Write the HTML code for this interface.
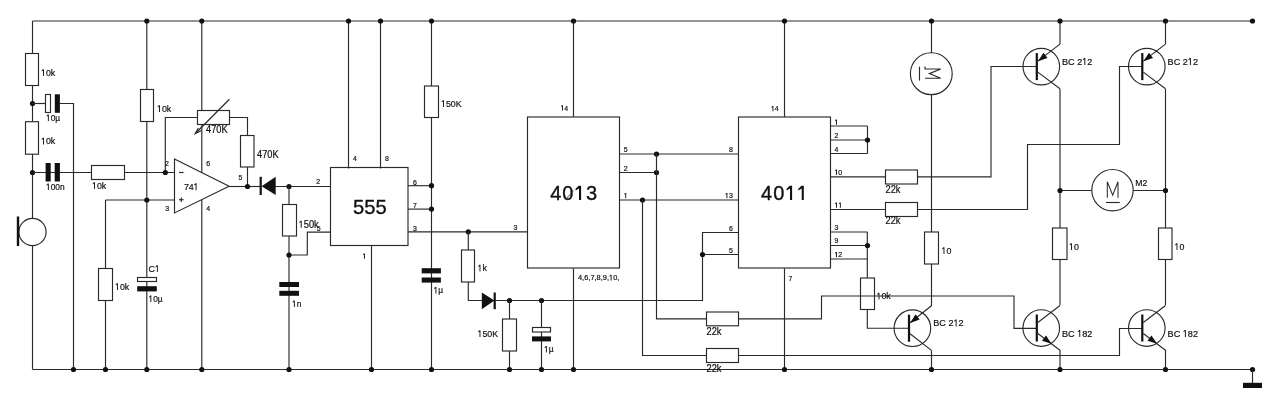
<!DOCTYPE html>
<html><head><meta charset="utf-8"><title>Schematic</title>
<style>
html,body{margin:0;padding:0;background:#fff;}
body{width:1280px;height:406px;overflow:hidden;}
svg{display:block;will-change:transform;}
text{font-family:"Liberation Sans",sans-serif;fill:#111;}
</style></head>
<body>
<svg width="1280" height="406" viewBox="0 0 1280 406">
<rect x="0" y="0" width="1280" height="406" fill="#fff"/>
<path d="M32.5,21 L1252.5,21" stroke="#2a2a2a" stroke-width="1.15" fill="none"/>
<path d="M32.5,369.5 L1252.5,369.5" stroke="#2a2a2a" stroke-width="1.15" fill="none"/>
<path d="M32.5,21 L32.5,218.5" stroke="#2a2a2a" stroke-width="1.15" fill="none"/>
<path d="M32.5,245.5 L32.5,369.5" stroke="#2a2a2a" stroke-width="1.15" fill="none"/>
<rect x="25.5" y="53.5" width="13" height="32" fill="#fff" stroke="#2a2a2a" stroke-width="1.15"/>
<g transform="translate(41.00,0) scale(0.93,1) translate(-41.00,0)">
<path d="M42.96,69.21 L44.16,69.21 L44.16,76.00 L43.16,76.00 L43.16,70.49 L41.66,71.44 L41.66,70.63 Z" fill="#111"/>
<text x="46.282" y="76" font-size="9.5" text-anchor="start" font-weight="normal" stroke="#111" stroke-width="0.2">0k</text>
</g>
<rect x="25.5" y="121.7" width="13" height="32.5" fill="#fff" stroke="#2a2a2a" stroke-width="1.15"/>
<g transform="translate(41.00,0) scale(0.93,1) translate(-41.00,0)">
<path d="M42.96,137.71 L44.16,137.71 L44.16,144.50 L43.16,144.50 L43.16,138.99 L41.66,139.94 L41.66,139.13 Z" fill="#111"/>
<text x="46.282" y="144.5" font-size="9.5" text-anchor="start" font-weight="normal" stroke="#111" stroke-width="0.2">0k</text>
</g>
<circle cx="32.5" cy="103.5" r="2.6" fill="#111"/>
<circle cx="32.5" cy="172.5" r="2.6" fill="#111"/>
<path d="M32.5,103.5 L46,103.5" stroke="#2a2a2a" stroke-width="1.15" fill="none"/>
<path d="M59.5,103.5 L73.5,103.5 L73.5,369.5" stroke="#2a2a2a" stroke-width="1.15" fill="none"/>
<rect x="45.5" y="94.5" width="5" height="18" fill="#fff" stroke="#2a2a2a" stroke-width="1.15"/>
<rect x="54.8" y="94.3" width="5.100000000000001" height="18.5" fill="#111"/>
<g transform="translate(46.00,0) scale(0.93,1) translate(-46.00,0)">
<path d="M47.82,114.56 L49.02,114.56 L49.02,121.00 L48.02,121.00 L48.02,115.78 L46.63,116.68 L46.63,115.91 Z" fill="#111"/>
<text x="51.004" y="121" font-size="9" text-anchor="start" font-weight="normal" stroke="#111" stroke-width="0.2">0µ</text>
</g>
<path d="M32.5,172.5 L92,172.5" stroke="#2a2a2a" stroke-width="1.15" fill="none"/>
<path d="M124,172.5 L165,172.5 L174.5,172.5" stroke="#2a2a2a" stroke-width="1.15" fill="none"/>
<rect x="45.6" y="163" width="5.100000000000001" height="18.5" fill="#111"/>
<rect x="54.7" y="163" width="5.199999999999996" height="18.5" fill="#111"/>
<g transform="translate(46.00,0) scale(0.93,1) translate(-46.00,0)">
<path d="M47.82,183.56 L49.02,183.56 L49.02,190.00 L48.02,190.00 L48.02,184.78 L46.63,185.68 L46.63,184.91 Z" fill="#111"/>
<text x="51.004" y="190" font-size="9" text-anchor="start" font-weight="normal" stroke="#111" stroke-width="0.2">00n</text>
</g>
<rect x="91.5" y="165.5" width="33" height="14" fill="#fff" stroke="#2a2a2a" stroke-width="1.15"/>
<g transform="translate(92.00,0) scale(0.93,1) translate(-92.00,0)">
<path d="M93.96,182.21 L95.16,182.21 L95.16,189.00 L94.16,189.00 L94.16,183.49 L92.67,184.44 L92.67,183.63 Z" fill="#111"/>
<text x="97.282" y="189" font-size="9.5" text-anchor="start" font-weight="normal" stroke="#111" stroke-width="0.2">0k</text>
</g>
<circle cx="32.5" cy="232" r="13.6" fill="#fff" stroke="#2a2a2a" stroke-width="1.15"/>
<rect x="16.8" y="216.5" width="2.3999999999999986" height="29.5" fill="#111"/>
<circle cx="73.5" cy="369.5" r="2.6" fill="#111"/>
<path d="M105.5,200 L174.5,200" stroke="#2a2a2a" stroke-width="1.15" fill="none"/>
<path d="M105.5,200 L105.5,369.5" stroke="#2a2a2a" stroke-width="1.15" fill="none"/>
<rect x="98.5" y="268.5" width="14" height="32" fill="#fff" stroke="#2a2a2a" stroke-width="1.15"/>
<g transform="translate(115.00,0) scale(0.93,1) translate(-115.00,0)">
<path d="M116.96,283.21 L118.16,283.21 L118.16,290.00 L117.16,290.00 L117.16,284.49 L115.67,285.44 L115.67,284.63 Z" fill="#111"/>
<text x="120.282" y="290" font-size="9.5" text-anchor="start" font-weight="normal" stroke="#111" stroke-width="0.2">0k</text>
</g>
<circle cx="105.5" cy="369.5" r="2.6" fill="#111"/>
<path d="M146.8,21 L146.8,369.5" stroke="#2a2a2a" stroke-width="1.15" fill="none"/>
<rect x="140.5" y="89.5" width="13" height="32" fill="#fff" stroke="#2a2a2a" stroke-width="1.15"/>
<g transform="translate(157.00,0) scale(0.93,1) translate(-157.00,0)">
<path d="M158.96,105.21 L160.16,105.21 L160.16,112.00 L159.16,112.00 L159.16,106.49 L157.66,107.44 L157.66,106.63 Z" fill="#111"/>
<text x="162.282" y="112" font-size="9.5" text-anchor="start" font-weight="normal" stroke="#111" stroke-width="0.2">0k</text>
</g>
<circle cx="146.8" cy="21" r="2.6" fill="#111"/>
<circle cx="146.8" cy="200" r="2.6" fill="#111"/>
<rect x="137.5" y="277.5" width="19" height="4" fill="#fff" stroke="#2a2a2a" stroke-width="1.15"/>
<rect x="137.2" y="286.2" width="19.600000000000023" height="5.199999999999989" fill="#111"/>
<g transform="translate(148.50,0) scale(0.93,1) translate(-148.50,0)">
<text x="148.5" y="272" font-size="9.5" text-anchor="start" font-weight="normal" stroke="#111" stroke-width="0.2">C</text>
<path d="M157.32,265.21 L158.52,265.21 L158.52,272.00 L157.52,272.00 L157.52,266.49 L156.02,267.44 L156.02,266.63 Z" fill="#111"/>
</g>
<g transform="translate(148.50,0) scale(0.93,1) translate(-148.50,0)">
<path d="M150.32,295.56 L151.52,295.56 L151.52,302.00 L150.52,302.00 L150.52,296.78 L149.13,297.68 L149.13,296.92 Z" fill="#111"/>
<text x="153.504" y="302" font-size="9" text-anchor="start" font-weight="normal" stroke="#111" stroke-width="0.2">0µ</text>
</g>
<circle cx="146.8" cy="369.5" r="2.6" fill="#111"/>
<path d="M165.3,172.5 L165.3,117.5 L247.5,117.5 L247.5,186.5" stroke="#2a2a2a" stroke-width="1.15" fill="none"/>
<circle cx="165.3" cy="172.5" r="2.6" fill="#111"/>
<g transform="translate(206.00,0) scale(0.93,1) translate(-206.00,0)">
<text x="206" y="133" font-size="10" text-anchor="start" font-weight="normal" stroke="#111" stroke-width="0.2">470K</text>
</g>
<rect x="240.5" y="135.5" width="13.5" height="31.5" fill="#fff" stroke="#2a2a2a" stroke-width="1.15"/>
<g transform="translate(257.00,0) scale(0.93,1) translate(-257.00,0)">
<text x="257" y="158" font-size="10" text-anchor="start" font-weight="normal" stroke="#111" stroke-width="0.2">470K</text>
</g>
<path d="M201.8,21 L201.8,173" stroke="#2a2a2a" stroke-width="1.15" fill="none"/>
<path d="M201.8,200 L201.8,369.5" stroke="#2a2a2a" stroke-width="1.15" fill="none"/>
<circle cx="201.8" cy="21" r="2.6" fill="#111"/>
<circle cx="201.8" cy="369.5" r="2.6" fill="#111"/>
<rect x="197.5" y="110.5" width="32" height="14" fill="#fff" stroke="#2a2a2a" stroke-width="1.15"/>
<path d="M229.4,99.2 L195.3,133.5" stroke="#2a2a2a" stroke-width="1.21" fill="none"/>
<path d="M198.3,128.0 L195.2,133.6 L201.5,130.6" stroke="#2a2a2a" stroke-width="1.15" fill="none"/>
<path d="M174.5,159.1 L229.1,186.3 L174.5,212.9 Z" fill="#fff" stroke="#2a2a2a" stroke-width="1.15"/>
<g transform="translate(184.00,0) scale(0.93,1) translate(-184.00,0)">
<text x="184" y="190.2" font-size="9.6" text-anchor="start" font-weight="normal" letter-spacing="-0.2" stroke="#111" stroke-width="0.2">74</text>
<path d="M196.26,183.34 L197.47,183.34 L197.47,190.20 L196.46,190.20 L196.46,184.63 L194.95,185.59 L194.95,184.78 Z" fill="#111"/>
</g>
<path d="M179,172.5 L183.6,172.5" stroke="#2a2a2a" stroke-width="1.15" fill="none"/>
<path d="M179,199.7 L183.6,199.7" stroke="#2a2a2a" stroke-width="1.15" fill="none"/>
<path d="M181.3,197.4 L181.3,202" stroke="#2a2a2a" stroke-width="1.15" fill="none"/>
<g transform="translate(165.00,0) scale(0.93,1) translate(-165.00,0)">
<text x="165" y="165.8" font-size="7.5" text-anchor="start" font-weight="normal" stroke="#111" stroke-width="0.2">2</text>
</g>
<g transform="translate(165.20,0) scale(0.93,1) translate(-165.20,0)">
<text x="165.2" y="211.1" font-size="7.5" text-anchor="start" font-weight="normal" stroke="#111" stroke-width="0.2">3</text>
</g>
<g transform="translate(206.20,0) scale(0.93,1) translate(-206.20,0)">
<text x="206.2" y="165.8" font-size="7.5" text-anchor="start" font-weight="normal" stroke="#111" stroke-width="0.2">6</text>
</g>
<g transform="translate(206.20,0) scale(0.93,1) translate(-206.20,0)">
<text x="206.2" y="211" font-size="7.5" text-anchor="start" font-weight="normal" stroke="#111" stroke-width="0.2">4</text>
</g>
<g transform="translate(238.50,0) scale(0.93,1) translate(-238.50,0)">
<text x="238.5" y="179.6" font-size="7.5" text-anchor="start" font-weight="normal" stroke="#111" stroke-width="0.2">5</text>
</g>
<path d="M229.1,186.5 L261,186.5" stroke="#2a2a2a" stroke-width="1.15" fill="none"/>
<circle cx="247.5" cy="186.5" r="2.6" fill="#111"/>
<rect x="259.6" y="176.8" width="2.1999999999999886" height="18.19999999999999" fill="#111"/>
<path d="M261.6,186.3 L275.7,176.8 L275.7,195 Z" fill="#111"/>
<path d="M275,186.5 L330.5,186.5" stroke="#2a2a2a" stroke-width="1.15" fill="none"/>
<circle cx="289" cy="186.5" r="2.6" fill="#111"/>
<g transform="translate(316.30,0) scale(0.93,1) translate(-316.30,0)">
<text x="316.3" y="184.3" font-size="7.5" text-anchor="start" font-weight="normal" stroke="#111" stroke-width="0.2">2</text>
</g>
<path d="M289,186.5 L289,369.5" stroke="#2a2a2a" stroke-width="1.15" fill="none"/>
<rect x="282.5" y="204.5" width="14" height="31.5" fill="#fff" stroke="#2a2a2a" stroke-width="1.15"/>
<g transform="translate(298.60,0) scale(0.93,1) translate(-298.60,0)">
<path d="M300.68,220.65 L301.93,220.65 L301.93,227.80 L300.88,227.80 L300.88,222.00 L299.30,223.00 L299.30,222.15 Z" fill="#111"/>
<text x="304.16" y="227.8" font-size="10" text-anchor="start" font-weight="normal" stroke="#111" stroke-width="0.2">50k</text>
</g>
<path d="M330.5,232.1 L307.3,232.1 L307.3,255 L289,255" stroke="#2a2a2a" stroke-width="1.15" fill="none"/>
<circle cx="289" cy="255" r="2.6" fill="#111"/>
<g transform="translate(316.80,0) scale(0.93,1) translate(-316.80,0)">
<text x="316.8" y="231.3" font-size="7.5" text-anchor="start" font-weight="normal" stroke="#111" stroke-width="0.2">5</text>
</g>
<rect x="279.3" y="282" width="19.69999999999999" height="5" fill="#111"/>
<rect x="279.3" y="290.8" width="19.69999999999999" height="5.0" fill="#111"/>
<g transform="translate(292.00,0) scale(0.93,1) translate(-292.00,0)">
<path d="M293.82,300.56 L295.02,300.56 L295.02,307.00 L294.02,307.00 L294.02,301.78 L292.63,302.68 L292.63,301.92 Z" fill="#111"/>
<text x="297.004" y="307" font-size="9" text-anchor="start" font-weight="normal" stroke="#111" stroke-width="0.2">n</text>
</g>
<circle cx="289" cy="369.5" r="2.6" fill="#111"/>
<rect x="330.5" y="167.5" width="77.5" height="78" fill="#fff" stroke="#2a2a2a" stroke-width="1.15"/>
<text x="353.1" y="214" font-size="20.2" text-anchor="start" font-weight="normal" stroke="#111" stroke-width="0.35">555</text>
<path d="M348.5,21 L348.5,168.5" stroke="#2a2a2a" stroke-width="1.15" fill="none"/>
<path d="M380.5,21 L380.5,168.5" stroke="#2a2a2a" stroke-width="1.15" fill="none"/>
<circle cx="348.5" cy="21" r="2.6" fill="#111"/>
<circle cx="380.5" cy="21" r="2.6" fill="#111"/>
<g transform="translate(353.00,0) scale(0.93,1) translate(-353.00,0)">
<text x="353" y="161.1" font-size="7.5" text-anchor="start" font-weight="normal" stroke="#111" stroke-width="0.2">4</text>
</g>
<g transform="translate(385.00,0) scale(0.93,1) translate(-385.00,0)">
<text x="385" y="161.1" font-size="7.5" text-anchor="start" font-weight="normal" stroke="#111" stroke-width="0.2">8</text>
</g>
<path d="M371.5,245.5 L371.5,369.5" stroke="#2a2a2a" stroke-width="1.15" fill="none"/>
<circle cx="371.5" cy="369.5" r="2.6" fill="#111"/>
<g transform="translate(362.50,0) scale(0.93,1) translate(-362.50,0)">
<path d="M363.90,253.44 L365.10,253.44 L365.10,258.80 L364.10,258.80 L364.10,254.45 L363.02,255.20 L363.02,254.56 Z" fill="#111"/>
</g>
<path d="M408,185.7 L431.5,185.7" stroke="#2a2a2a" stroke-width="1.15" fill="none"/>
<path d="M408,209.1 L431.5,209.1" stroke="#2a2a2a" stroke-width="1.15" fill="none"/>
<path d="M408,231.8 L527.5,231.8" stroke="#2a2a2a" stroke-width="1.15" fill="none"/>
<g transform="translate(413.00,0) scale(0.93,1) translate(-413.00,0)">
<text x="413" y="184.6" font-size="7.5" text-anchor="start" font-weight="normal" stroke="#111" stroke-width="0.2">6</text>
</g>
<g transform="translate(413.00,0) scale(0.93,1) translate(-413.00,0)">
<text x="413" y="208" font-size="7.5" text-anchor="start" font-weight="normal" stroke="#111" stroke-width="0.2">7</text>
</g>
<g transform="translate(413.00,0) scale(0.93,1) translate(-413.00,0)">
<text x="413" y="231.3" font-size="7.5" text-anchor="start" font-weight="normal" stroke="#111" stroke-width="0.2">3</text>
</g>
<path d="M431.5,21 L431.5,369.5" stroke="#2a2a2a" stroke-width="1.15" fill="none"/>
<circle cx="431.5" cy="21" r="2.6" fill="#111"/>
<rect x="424.5" y="86" width="14" height="31.5" fill="#fff" stroke="#2a2a2a" stroke-width="1.15"/>
<g transform="translate(441.00,0) scale(0.93,1) translate(-441.00,0)">
<path d="M442.96,100.21 L444.16,100.21 L444.16,107.00 L443.16,107.00 L443.16,101.49 L441.67,102.44 L441.67,101.63 Z" fill="#111"/>
<text x="446.282" y="107" font-size="9.5" text-anchor="start" font-weight="normal" stroke="#111" stroke-width="0.2">50K</text>
</g>
<circle cx="431.5" cy="185.7" r="2.6" fill="#111"/>
<circle cx="431.5" cy="209.1" r="2.6" fill="#111"/>
<rect x="421.7" y="268.2" width="19.19999999999999" height="5.199999999999989" fill="#111"/>
<rect x="421.7" y="277.5" width="19.19999999999999" height="5.100000000000023" fill="#111"/>
<g transform="translate(433.60,0) scale(0.93,1) translate(-433.60,0)">
<path d="M435.42,286.96 L436.62,286.96 L436.62,293.40 L435.62,293.40 L435.62,288.18 L434.23,289.08 L434.23,288.31 Z" fill="#111"/>
<text x="438.60400000000004" y="293.4" font-size="9" text-anchor="start" font-weight="normal" stroke="#111" stroke-width="0.2">µ</text>
</g>
<circle cx="431.5" cy="369.5" r="2.6" fill="#111"/>
<rect x="527.5" y="117" width="92" height="151" fill="#fff" stroke="#2a2a2a" stroke-width="1.15"/>
<text x="550.3" y="200" font-size="20" text-anchor="start" font-weight="normal" letter-spacing="0.9" stroke="#111" stroke-width="0.35">40</text>
<path d="M578.70,185.70 L581.10,185.70 L581.10,200.00 L579.00,200.00 L579.00,188.40 L575.60,190.40 L575.60,188.70 Z" fill="#111"/>
<text x="586.0" y="200" font-size="20" text-anchor="start" font-weight="normal" stroke="#111" stroke-width="0.35">3</text>
<path d="M566.8,198.1 L573.5,190.7" stroke="#2a2a2a" stroke-width="0.805" fill="none"/>
<path d="M573.5,21 L573.5,117" stroke="#2a2a2a" stroke-width="1.15" fill="none"/>
<circle cx="573.5" cy="21" r="2.6" fill="#111"/>
<g transform="translate(560.50,0) scale(0.93,1) translate(-560.50,0)">
<path d="M561.90,105.24 L563.10,105.24 L563.10,110.60 L562.10,110.60 L562.10,106.25 L561.02,107.00 L561.02,106.36 Z" fill="#111"/>
<text x="564.67" y="110.6" font-size="7.5" text-anchor="start" font-weight="normal" stroke="#111" stroke-width="0.2">4</text>
</g>
<path d="M573.5,268.3 L573.5,369.5" stroke="#2a2a2a" stroke-width="1.15" fill="none"/>
<circle cx="573.5" cy="369.5" r="2.6" fill="#111"/>
<g transform="translate(578.00,0) scale(0.93,1) translate(-578.00,0)">
<text x="578" y="280.5" font-size="8" text-anchor="start" font-weight="normal" stroke="#111" stroke-width="0.2">4,6,7,8,9,</text>
<path d="M612.90,274.78 L614.10,274.78 L614.10,280.50 L613.10,280.50 L613.10,275.86 L611.92,276.66 L611.92,275.98 Z" fill="#111"/>
<text x="615.8080000000001" y="280.5" font-size="8" text-anchor="start" font-weight="normal" stroke="#111" stroke-width="0.2">0,</text>
</g>
<g transform="translate(513.50,0) scale(0.93,1) translate(-513.50,0)">
<text x="513.5" y="230.3" font-size="7.5" text-anchor="start" font-weight="normal" stroke="#111" stroke-width="0.2">3</text>
</g>
<g transform="translate(623.80,0) scale(0.93,1) translate(-623.80,0)">
<text x="623.8" y="152.3" font-size="7.5" text-anchor="start" font-weight="normal" stroke="#111" stroke-width="0.2">5</text>
</g>
<g transform="translate(623.80,0) scale(0.93,1) translate(-623.80,0)">
<text x="623.8" y="170.8" font-size="7.5" text-anchor="start" font-weight="normal" stroke="#111" stroke-width="0.2">2</text>
</g>
<g transform="translate(623.80,0) scale(0.93,1) translate(-623.80,0)">
<path d="M625.20,192.94 L626.40,192.94 L626.40,198.30 L625.40,198.30 L625.40,193.95 L624.32,194.70 L624.32,194.06 Z" fill="#111"/>
</g>
<circle cx="468.3" cy="231.8" r="2.6" fill="#111"/>
<path d="M468.3,231.8 L468.3,300.5 L482,300.5" stroke="#2a2a2a" stroke-width="1.15" fill="none"/>
<rect x="461.5" y="250" width="13" height="32" fill="#fff" stroke="#2a2a2a" stroke-width="1.15"/>
<g transform="translate(477.50,0) scale(0.93,1) translate(-477.50,0)">
<path d="M479.46,264.71 L480.66,264.71 L480.66,271.50 L479.66,271.50 L479.66,265.99 L478.17,266.94 L478.17,266.13 Z" fill="#111"/>
<text x="482.782" y="271.5" font-size="9.5" text-anchor="start" font-weight="normal" stroke="#111" stroke-width="0.2">k</text>
</g>
<path d="M481.8,292.5 L494.4,300.5 L481.8,309.2 Z" fill="#111"/>
<rect x="493.6" y="292.5" width="2.1999999999999886" height="16.69999999999999" fill="#111"/>
<path d="M495,300.5 L702.5,300.5 L702.5,232.5 L738,232.5" stroke="#2a2a2a" stroke-width="1.15" fill="none"/>
<circle cx="509.5" cy="300.5" r="2.6" fill="#111"/>
<circle cx="541.5" cy="300.5" r="2.6" fill="#111"/>
<path d="M509.5,300.5 L509.5,369.5" stroke="#2a2a2a" stroke-width="1.15" fill="none"/>
<rect x="502.5" y="319" width="14" height="32" fill="#fff" stroke="#2a2a2a" stroke-width="1.15"/>
<g transform="translate(477.50,0) scale(0.93,1) translate(-477.50,0)">
<path d="M479.46,330.21 L480.66,330.21 L480.66,337.00 L479.66,337.00 L479.66,331.49 L478.17,332.44 L478.17,331.63 Z" fill="#111"/>
<text x="482.782" y="337" font-size="9.5" text-anchor="start" font-weight="normal" stroke="#111" stroke-width="0.2">50K</text>
</g>
<circle cx="509.5" cy="369.5" r="2.6" fill="#111"/>
<path d="M541.5,300.5 L541.5,369.5" stroke="#2a2a2a" stroke-width="1.15" fill="none"/>
<rect x="532.5" y="327.5" width="18" height="4.5" fill="#fff" stroke="#2a2a2a" stroke-width="1.15"/>
<rect x="532" y="336.4" width="19" height="5.0" fill="#111"/>
<g transform="translate(544.00,0) scale(0.93,1) translate(-544.00,0)">
<path d="M545.82,346.06 L547.02,346.06 L547.02,352.50 L546.02,352.50 L546.02,347.28 L544.63,348.18 L544.63,347.42 Z" fill="#111"/>
<text x="549.004" y="352.5" font-size="9" text-anchor="start" font-weight="normal" stroke="#111" stroke-width="0.2">µ</text>
</g>
<circle cx="541.5" cy="369.5" r="2.6" fill="#111"/>
<path d="M619.5,154 L738,154" stroke="#2a2a2a" stroke-width="1.15" fill="none"/>
<path d="M619.5,172.5 L656.5,172.5" stroke="#2a2a2a" stroke-width="1.15" fill="none"/>
<path d="M619.5,200 L738,200" stroke="#2a2a2a" stroke-width="1.15" fill="none"/>
<circle cx="656.5" cy="154" r="2.6" fill="#111"/>
<circle cx="656.5" cy="172.5" r="2.6" fill="#111"/>
<circle cx="642.5" cy="200" r="2.6" fill="#111"/>
<path d="M702.5,254.5 L738,254.5" stroke="#2a2a2a" stroke-width="1.15" fill="none"/>
<circle cx="702.5" cy="254.5" r="2.6" fill="#111"/>
<g transform="translate(729.00,0) scale(0.93,1) translate(-729.00,0)">
<text x="729" y="152.3" font-size="7.5" text-anchor="start" font-weight="normal" stroke="#111" stroke-width="0.2">8</text>
</g>
<g transform="translate(725.00,0) scale(0.93,1) translate(-725.00,0)">
<path d="M726.40,192.94 L727.60,192.94 L727.60,198.30 L726.60,198.30 L726.60,193.95 L725.52,194.70 L725.52,194.06 Z" fill="#111"/>
<text x="729.17" y="198.3" font-size="7.5" text-anchor="start" font-weight="normal" stroke="#111" stroke-width="0.2">3</text>
</g>
<g transform="translate(729.00,0) scale(0.93,1) translate(-729.00,0)">
<text x="729" y="230.8" font-size="7.5" text-anchor="start" font-weight="normal" stroke="#111" stroke-width="0.2">6</text>
</g>
<g transform="translate(729.00,0) scale(0.93,1) translate(-729.00,0)">
<text x="729" y="252.8" font-size="7.5" text-anchor="start" font-weight="normal" stroke="#111" stroke-width="0.2">5</text>
</g>
<path d="M656.5,154 L656.5,318.8 L821.5,318.8 L821.5,296 L1014,296 L1014,328.3 L1036,328.3" stroke="#2a2a2a" stroke-width="1.15" fill="none"/>
<rect x="706.5" y="312" width="32" height="13.8" fill="#fff" stroke="#2a2a2a" stroke-width="1.15"/>
<g transform="translate(706.50,0) scale(0.93,1) translate(-706.50,0)">
<text x="706.5" y="335" font-size="10" text-anchor="start" font-weight="normal" stroke="#111" stroke-width="0.2">22k</text>
</g>
<path d="M642.5,200 L642.5,355.5 L1119.5,355.5 L1119.5,328.5 L1142,328.5" stroke="#2a2a2a" stroke-width="1.15" fill="none"/>
<rect x="706.5" y="348.5" width="32" height="14" fill="#fff" stroke="#2a2a2a" stroke-width="1.15"/>
<g transform="translate(706.50,0) scale(0.93,1) translate(-706.50,0)">
<text x="706.5" y="372" font-size="10" text-anchor="start" font-weight="normal" stroke="#111" stroke-width="0.2">22k</text>
</g>
<rect x="738.5" y="117" width="92" height="151" fill="#fff" stroke="#2a2a2a" stroke-width="1.15"/>
<text x="761" y="200" font-size="20" text-anchor="start" font-weight="normal" letter-spacing="1.1" stroke="#111" stroke-width="0.35">40</text>
<path d="M789.70,185.70 L792.10,185.70 L792.10,200.00 L790.00,200.00 L790.00,188.40 L786.60,190.40 L786.60,188.70 Z" fill="#111"/>
<path d="M801.40,185.70 L803.80,185.70 L803.80,200.00 L801.70,200.00 L801.70,188.40 L798.30,190.40 L798.30,188.70 Z" fill="#111"/>
<path d="M784.5,21 L784.5,117" stroke="#2a2a2a" stroke-width="1.15" fill="none"/>
<circle cx="784.5" cy="21" r="2.6" fill="#111"/>
<g transform="translate(771.00,0) scale(0.93,1) translate(-771.00,0)">
<path d="M772.40,105.94 L773.60,105.94 L773.60,111.30 L772.60,111.30 L772.60,106.95 L771.52,107.70 L771.52,107.06 Z" fill="#111"/>
<text x="775.17" y="111.3" font-size="7.5" text-anchor="start" font-weight="normal" stroke="#111" stroke-width="0.2">4</text>
</g>
<path d="M784.5,268.3 L784.5,369.5" stroke="#2a2a2a" stroke-width="1.15" fill="none"/>
<circle cx="784.5" cy="369.5" r="2.6" fill="#111"/>
<g transform="translate(788.50,0) scale(0.93,1) translate(-788.50,0)">
<text x="788.5" y="280.8" font-size="7.5" text-anchor="start" font-weight="normal" stroke="#111" stroke-width="0.2">7</text>
</g>
<path d="M830.5,126 L867.5,126" stroke="#2a2a2a" stroke-width="1.15" fill="none"/>
<path d="M830.5,140 L867.5,140" stroke="#2a2a2a" stroke-width="1.15" fill="none"/>
<path d="M830.5,153.5 L867.5,153.5" stroke="#2a2a2a" stroke-width="1.15" fill="none"/>
<path d="M867.5,126 L867.5,153.5" stroke="#2a2a2a" stroke-width="1.15" fill="none"/>
<circle cx="867.5" cy="140" r="2.6" fill="#111"/>
<g transform="translate(834.50,0) scale(0.93,1) translate(-834.50,0)">
<path d="M835.90,119.44 L837.10,119.44 L837.10,124.80 L836.10,124.80 L836.10,120.45 L835.02,121.20 L835.02,120.56 Z" fill="#111"/>
</g>
<g transform="translate(834.50,0) scale(0.93,1) translate(-834.50,0)">
<text x="834.5" y="138.5" font-size="7.5" text-anchor="start" font-weight="normal" stroke="#111" stroke-width="0.2">2</text>
</g>
<g transform="translate(834.50,0) scale(0.93,1) translate(-834.50,0)">
<text x="834.5" y="151.8" font-size="7.5" text-anchor="start" font-weight="normal" stroke="#111" stroke-width="0.2">4</text>
</g>
<path d="M830.5,176.8 L885.5,176.8" stroke="#2a2a2a" stroke-width="1.15" fill="none"/>
<rect x="885.5" y="170" width="32" height="14" fill="#fff" stroke="#2a2a2a" stroke-width="1.15"/>
<path d="M917.5,176.8 L991,176.8 L991,66.5 L1036,66.5" stroke="#2a2a2a" stroke-width="1.15" fill="none"/>
<g transform="translate(834.50,0) scale(0.93,1) translate(-834.50,0)">
<path d="M835.90,169.44 L837.10,169.44 L837.10,174.80 L836.10,174.80 L836.10,170.45 L835.02,171.20 L835.02,170.56 Z" fill="#111"/>
<text x="838.67" y="174.8" font-size="7.5" text-anchor="start" font-weight="normal" stroke="#111" stroke-width="0.2">0</text>
</g>
<g transform="translate(885.50,0) scale(0.93,1) translate(-885.50,0)">
<text x="885.5" y="192.7" font-size="10" text-anchor="start" font-weight="normal" stroke="#111" stroke-width="0.2">22k</text>
</g>
<path d="M830.5,209.5 L885.5,209.5" stroke="#2a2a2a" stroke-width="1.15" fill="none"/>
<rect x="885.5" y="202.5" width="32" height="14" fill="#fff" stroke="#2a2a2a" stroke-width="1.15"/>
<path d="M917.5,209.5 L1027.5,209.5 L1027.5,144.5 L1119.5,144.5 L1119.5,66.5 L1142,66.5" stroke="#2a2a2a" stroke-width="1.15" fill="none"/>
<g transform="translate(834.50,0) scale(0.93,1) translate(-834.50,0)">
<path d="M835.90,202.44 L837.10,202.44 L837.10,207.80 L836.10,207.80 L836.10,203.45 L835.02,204.20 L835.02,203.56 Z" fill="#111"/>
<path d="M840.07,202.44 L841.27,202.44 L841.27,207.80 L840.27,207.80 L840.27,203.45 L839.19,204.20 L839.19,203.56 Z" fill="#111"/>
</g>
<g transform="translate(885.50,0) scale(0.93,1) translate(-885.50,0)">
<text x="885.5" y="224.5" font-size="10" text-anchor="start" font-weight="normal" stroke="#111" stroke-width="0.2">22k</text>
</g>
<path d="M830.5,232 L867.5,232" stroke="#2a2a2a" stroke-width="1.15" fill="none"/>
<path d="M830.5,245.5 L867.5,245.5" stroke="#2a2a2a" stroke-width="1.15" fill="none"/>
<path d="M830.5,259 L867.5,259" stroke="#2a2a2a" stroke-width="1.15" fill="none"/>
<path d="M867.3,232 L867.3,278" stroke="#2a2a2a" stroke-width="1.15" fill="none"/>
<path d="M867.3,309.5 L867.3,328.2 L909,328.2" stroke="#2a2a2a" stroke-width="1.15" fill="none"/>
<circle cx="867.5" cy="245.5" r="2.6" fill="#111"/>
<rect x="860.5" y="278" width="14" height="31.5" fill="none" stroke="#2a2a2a" stroke-width="1.15"/>
<g transform="translate(876.50,0) scale(0.93,1) translate(-876.50,0)">
<path d="M878.46,292.71 L879.66,292.71 L879.66,299.50 L878.66,299.50 L878.66,293.99 L877.16,294.94 L877.16,294.13 Z" fill="#111"/>
<text x="881.782" y="299.5" font-size="9.5" text-anchor="start" font-weight="normal" stroke="#111" stroke-width="0.2">0k</text>
</g>
<g transform="translate(834.50,0) scale(0.93,1) translate(-834.50,0)">
<text x="834.5" y="229.8" font-size="7.5" text-anchor="start" font-weight="normal" stroke="#111" stroke-width="0.2">3</text>
</g>
<g transform="translate(834.50,0) scale(0.93,1) translate(-834.50,0)">
<text x="834.5" y="243.3" font-size="7.5" text-anchor="start" font-weight="normal" stroke="#111" stroke-width="0.2">9</text>
</g>
<g transform="translate(834.50,0) scale(0.93,1) translate(-834.50,0)">
<path d="M835.90,251.94 L837.10,251.94 L837.10,257.30 L836.10,257.30 L836.10,252.95 L835.02,253.70 L835.02,253.06 Z" fill="#111"/>
<text x="838.67" y="257.3" font-size="7.5" text-anchor="start" font-weight="normal" stroke="#111" stroke-width="0.2">2</text>
</g>
<path d="M931.5,21 L931.5,306" stroke="#2a2a2a" stroke-width="1.15" fill="none"/>
<circle cx="931.5" cy="21" r="2.6" fill="#111"/>
<circle cx="931.3" cy="73.7" r="20.9" fill="#fff" stroke="#2a2a2a" stroke-width="1.15"/>
<path d="M919.5,66.7 L919.5,80.6" stroke="#2a2a2a" stroke-width="1.15" fill="none"/>
<path d="M925,66.5 L925,69 L940.7,69 L929.4,73.6 L940.7,78.2 L925,78.2" stroke="#2a2a2a" stroke-width="1.15" fill="none"/>
<rect x="924.5" y="232" width="14" height="32" fill="#fff" stroke="#2a2a2a" stroke-width="1.15"/>
<g transform="translate(941.50,0) scale(0.93,1) translate(-941.50,0)">
<path d="M943.46,247.21 L944.66,247.21 L944.66,254.00 L943.66,254.00 L943.66,248.49 L942.16,249.44 L942.16,248.63 Z" fill="#111"/>
<text x="946.782" y="254" font-size="9.5" text-anchor="start" font-weight="normal" stroke="#111" stroke-width="0.2">0</text>
</g>
<circle cx="912.4" cy="328.2" r="18.3" fill="none" stroke="#2a2a2a" stroke-width="1.15"/>
<rect x="907.9" y="314.7" width="2.2000000000000455" height="27.0" fill="#111"/>
<path d="M910,322.7 L931.5,305.7" stroke="#2a2a2a" stroke-width="1.15" fill="none"/>
<path d="M910,333.7 L931.5,350.4" stroke="#2a2a2a" stroke-width="1.15" fill="none"/>
<path d="M910.20,322.90 L915.52,314.36 L919.66,319.50 Z" fill="#111"/>
<path d="M931.5,350.4 L931.5,369.5" stroke="#2a2a2a" stroke-width="1.15" fill="none"/>
<circle cx="931.5" cy="369.5" r="2.6" fill="#111"/>
<g transform="translate(933.30,0) scale(0.93,1) translate(-933.30,0)">
<text x="933.3" y="326.5" font-size="9.8" text-anchor="start" font-weight="normal" stroke="#111" stroke-width="0.2">BC 2</text>
<path d="M957.11,319.49 L958.34,319.49 L958.34,326.50 L957.31,326.50 L957.31,320.82 L955.77,321.80 L955.77,320.96 Z" fill="#111"/>
<text x="960.5341999999999" y="326.5" font-size="9.8" text-anchor="start" font-weight="normal" stroke="#111" stroke-width="0.2">2</text>
</g>
<path d="M1060,21 L1060,44" stroke="#2a2a2a" stroke-width="1.15" fill="none"/>
<circle cx="1060" cy="21" r="2.6" fill="#111"/>
<circle cx="1041.3" cy="66.6" r="18.3" fill="none" stroke="#2a2a2a" stroke-width="1.15"/>
<rect x="1035.7" y="53.099999999999994" width="2.199999999999818" height="27.0" fill="#111"/>
<path d="M1037.8,61.099999999999994 L1060,44.099999999999994" stroke="#2a2a2a" stroke-width="1.15" fill="none"/>
<path d="M1037.8,72.1 L1060,88.8" stroke="#2a2a2a" stroke-width="1.15" fill="none"/>
<path d="M1038.00,61.30 L1043.45,52.85 L1047.52,58.05 Z" fill="#111"/>
<path d="M1060,89 L1060,305" stroke="#2a2a2a" stroke-width="1.15" fill="none"/>
<g transform="translate(1062.00,0) scale(0.93,1) translate(-1062.00,0)">
<text x="1062" y="65" font-size="9.8" text-anchor="start" font-weight="normal" stroke="#111" stroke-width="0.2">BC 2</text>
<path d="M1085.81,57.99 L1087.04,57.99 L1087.04,65.00 L1086.01,65.00 L1086.01,59.32 L1084.47,60.30 L1084.47,59.46 Z" fill="#111"/>
<text x="1089.2341999999996" y="65" font-size="9.8" text-anchor="start" font-weight="normal" stroke="#111" stroke-width="0.2">2</text>
</g>
<path d="M1165.5,21 L1165.5,44" stroke="#2a2a2a" stroke-width="1.15" fill="none"/>
<circle cx="1165.5" cy="21" r="2.6" fill="#111"/>
<circle cx="1146.8" cy="66.6" r="18.3" fill="none" stroke="#2a2a2a" stroke-width="1.15"/>
<rect x="1141.2" y="53.099999999999994" width="2.199999999999818" height="27.0" fill="#111"/>
<path d="M1143.3,61.099999999999994 L1165.5,44.099999999999994" stroke="#2a2a2a" stroke-width="1.15" fill="none"/>
<path d="M1143.3,72.1 L1165.5,88.8" stroke="#2a2a2a" stroke-width="1.15" fill="none"/>
<path d="M1143.50,61.30 L1148.95,52.85 L1153.02,58.05 Z" fill="#111"/>
<path d="M1165.5,89 L1165.5,305" stroke="#2a2a2a" stroke-width="1.15" fill="none"/>
<g transform="translate(1167.60,0) scale(0.93,1) translate(-1167.60,0)">
<text x="1167.6" y="65" font-size="9.8" text-anchor="start" font-weight="normal" stroke="#111" stroke-width="0.2">BC 2</text>
<path d="M1191.41,57.99 L1192.64,57.99 L1192.64,65.00 L1191.61,65.00 L1191.61,59.32 L1190.07,60.30 L1190.07,59.46 Z" fill="#111"/>
<text x="1194.8341999999996" y="65" font-size="9.8" text-anchor="start" font-weight="normal" stroke="#111" stroke-width="0.2">2</text>
</g>
<circle cx="1252.5" cy="21" r="2.6" fill="#111"/>
<path d="M1060,190.5 L1165.5,190.5" stroke="#2a2a2a" stroke-width="1.15" fill="none"/>
<circle cx="1060" cy="190.5" r="2.6" fill="#111"/>
<circle cx="1165.5" cy="190.5" r="2.6" fill="#111"/>
<circle cx="1112.5" cy="190.2" r="20.7" fill="#fff" stroke="#2a2a2a" stroke-width="1.15"/>
<path d="M1107.3,197.8 L1107.3,181.8 L1112.7,195.2 L1118,181.8 L1118,197.8" stroke="#2a2a2a" stroke-width="1.03" fill="none"/>
<path d="M1106,202.5 L1119.8,202.5" stroke="#2a2a2a" stroke-width="1.15" fill="none"/>
<g transform="translate(1135.30,0) scale(0.93,1) translate(-1135.30,0)">
<text x="1135.3" y="186" font-size="9.3" text-anchor="start" font-weight="normal" stroke="#111" stroke-width="0.2">M2</text>
</g>
<rect x="1052.5" y="228" width="14.5" height="31.5" fill="#fff" stroke="#2a2a2a" stroke-width="1.15"/>
<g transform="translate(1069.00,0) scale(0.93,1) translate(-1069.00,0)">
<path d="M1070.96,243.21 L1072.16,243.21 L1072.16,250.00 L1071.16,250.00 L1071.16,244.49 L1069.66,245.44 L1069.66,244.63 Z" fill="#111"/>
<text x="1074.282" y="250" font-size="9.5" text-anchor="start" font-weight="normal" stroke="#111" stroke-width="0.2">0</text>
</g>
<rect x="1158.5" y="228" width="13.5" height="31.5" fill="#fff" stroke="#2a2a2a" stroke-width="1.15"/>
<g transform="translate(1174.50,0) scale(0.93,1) translate(-1174.50,0)">
<path d="M1176.46,243.21 L1177.66,243.21 L1177.66,250.00 L1176.66,250.00 L1176.66,244.49 L1175.16,245.44 L1175.16,244.63 Z" fill="#111"/>
<text x="1179.782" y="250" font-size="9.5" text-anchor="start" font-weight="normal" stroke="#111" stroke-width="0.2">0</text>
</g>
<circle cx="1041.25" cy="328" r="18.3" fill="none" stroke="#2a2a2a" stroke-width="1.15"/>
<rect x="1035.7" y="314.5" width="2.199999999999818" height="27.0" fill="#111"/>
<path d="M1037.8,322.5 L1060,305.5" stroke="#2a2a2a" stroke-width="1.15" fill="none"/>
<path d="M1037.8,333.5 L1060,350.2" stroke="#2a2a2a" stroke-width="1.15" fill="none"/>
<path d="M1051.56,343.85 L1041.99,340.78 L1045.96,335.51 Z" fill="#111"/>
<path d="M1060,350 L1060,369.5" stroke="#2a2a2a" stroke-width="1.15" fill="none"/>
<circle cx="1060" cy="369.5" r="2.6" fill="#111"/>
<g transform="translate(1062.00,0) scale(0.93,1) translate(-1062.00,0)">
<text x="1062" y="337" font-size="9.8" text-anchor="start" font-weight="normal" stroke="#111" stroke-width="0.2">BC </text>
<path d="M1080.37,329.99 L1081.60,329.99 L1081.60,337.00 L1080.57,337.00 L1080.57,331.32 L1079.02,332.30 L1079.02,331.46 Z" fill="#111"/>
<text x="1083.7853999999998" y="337" font-size="9.8" text-anchor="start" font-weight="normal" stroke="#111" stroke-width="0.2">82</text>
</g>
<circle cx="1146.8" cy="328" r="18.3" fill="none" stroke="#2a2a2a" stroke-width="1.15"/>
<rect x="1141.2" y="314.5" width="2.199999999999818" height="27.0" fill="#111"/>
<path d="M1143.3,322.5 L1165.5,305.5" stroke="#2a2a2a" stroke-width="1.15" fill="none"/>
<path d="M1143.3,333.5 L1165.5,350.2" stroke="#2a2a2a" stroke-width="1.15" fill="none"/>
<path d="M1157.06,343.85 L1147.49,340.78 L1151.46,335.51 Z" fill="#111"/>
<path d="M1165.5,350 L1165.5,369.5" stroke="#2a2a2a" stroke-width="1.15" fill="none"/>
<circle cx="1165.5" cy="369.5" r="2.6" fill="#111"/>
<g transform="translate(1167.60,0) scale(0.93,1) translate(-1167.60,0)">
<text x="1167.6" y="337" font-size="9.8" text-anchor="start" font-weight="normal" stroke="#111" stroke-width="0.2">BC </text>
<path d="M1185.97,329.99 L1187.20,329.99 L1187.20,337.00 L1186.17,337.00 L1186.17,331.32 L1184.62,332.30 L1184.62,331.46 Z" fill="#111"/>
<text x="1189.3853999999997" y="337" font-size="9.8" text-anchor="start" font-weight="normal" stroke="#111" stroke-width="0.2">82</text>
</g>
<circle cx="1252.5" cy="369.5" r="2.6" fill="#111"/>
<path d="M1252.5,369.5 L1252.5,383" stroke="#2a2a2a" stroke-width="1.15" fill="none"/>
<rect x="1243" y="382.8" width="19" height="5.199999999999989" fill="#111"/>
</svg>
</body></html>
